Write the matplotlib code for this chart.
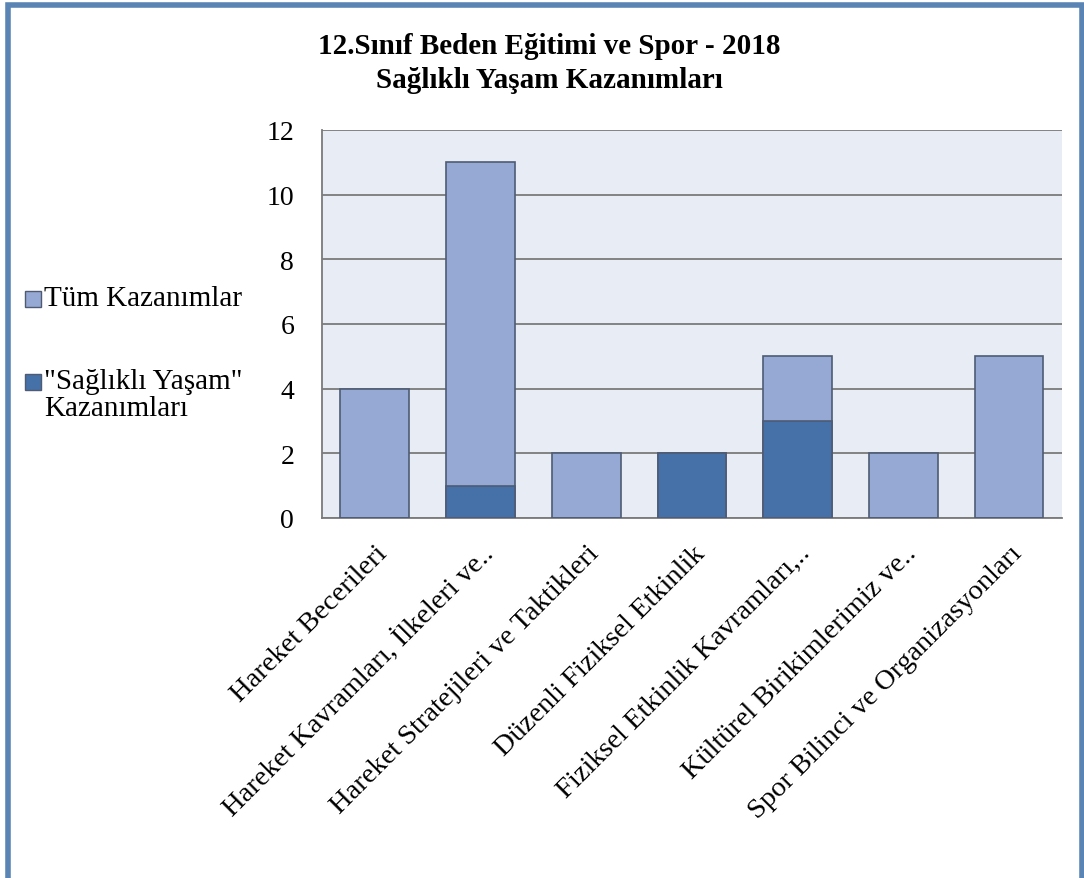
import matplotlib as mpl; mpl.use('Agg')
import matplotlib.pyplot as plt
from matplotlib.patches import Rectangle
import numpy as np

plt.rcParams.update({'font.family': ['Liberation Serif', 'DejaVu Serif'], 'font.size': 20})

categories = ['Hareket Becerileri', 'Hareket Kavramları, İlkeleri ve..',
              'Hareket Stratejileri ve Taktikleri', 'Düzenli Fiziksel Etkinlik',
              'Fiziksel Etkinlik Kavramları,..', 'Kültürel Birikimlerimiz ve..',
              'Spor Bilinci ve Organizasyonları']
tum = [4, 11, 2, 2, 5, 2, 5]
saglikli = [0, 1, 0, 2, 3, 0, 0]
labels = ['Tüm Kazanımlar', '"Sağlıklı Yaşam"\nKazanımları']
c_light, c_dark, c_edge = '#95a9d4', '#4571a8', '#4e5b73'

W, H = 1084, 879
fig = plt.figure(figsize=(W/100, H/100), dpi=100)
ax = fig.add_axes([322/W, 1-519/H, 740/W, 388/H])
x = np.arange(len(categories))
ax.bar(x, tum, width=0.65, color=c_light, edgecolor=c_edge, lw=1.2, zorder=3)
ax.bar(x, saglikli, width=0.65, color=c_dark, edgecolor=c_edge, lw=1.2, zorder=4)
ax.set_facecolor('#e8ecf4')
ax.set_xlim(-0.5, 6.5); ax.set_ylim(0, 12)
ax.set_yticks(range(0, 13, 2))
ax.yaxis.grid(True, color='#7a7a7a', lw=1.3, zorder=1)
ax.set_axisbelow(True)
for s in ['top', 'right']: ax.spines[s].set_visible(False)
for s in ['left', 'bottom']: ax.spines[s].set_color('#7a7a7a'); ax.spines[s].set_linewidth(1.3)
ax.tick_params(axis='y', length=0, pad=20, labelsize=20)
ax.tick_params(axis='x', length=0, pad=16)
ax.set_xticks(x)
ax.set_xticklabels(categories, rotation=45, ha='right', rotation_mode='anchor', fontsize=20.5)

fig.text(549/W, 1-47/H, '12.Sınıf Beden Eğitimi ve Spor - 2018', ha='center', va='center',
         fontsize=21, fontweight='bold')
fig.text(549/W, 1-80/H, 'Sağlıklı Yaşam Kazanımları', ha='center', va='center',
         fontsize=21, fontweight='bold')

# legend drawn by hand: square next to the first line of each label
for lab, col, yc in zip(labels, [c_light, c_dark], [300, 383]):
    fig.patches.append(Rectangle((25/W, 1-(yc+8)/H), 16/W, 16/H, transform=fig.transFigure,
                                 facecolor=col, edgecolor=c_edge, lw=1))
    fig.text(44/W, 1-(yc-14)/H, lab, ha='left', va='top', fontsize=21, linespacing=1.05)

fig.patches.append(Rectangle((8/W, -0.05), 1074/W, 1.05 - 6/H, transform=fig.transFigure,
                             fill=False, edgecolor='#5a84b4', lw=4))
fig.savefig('out.png', dpi=100)
